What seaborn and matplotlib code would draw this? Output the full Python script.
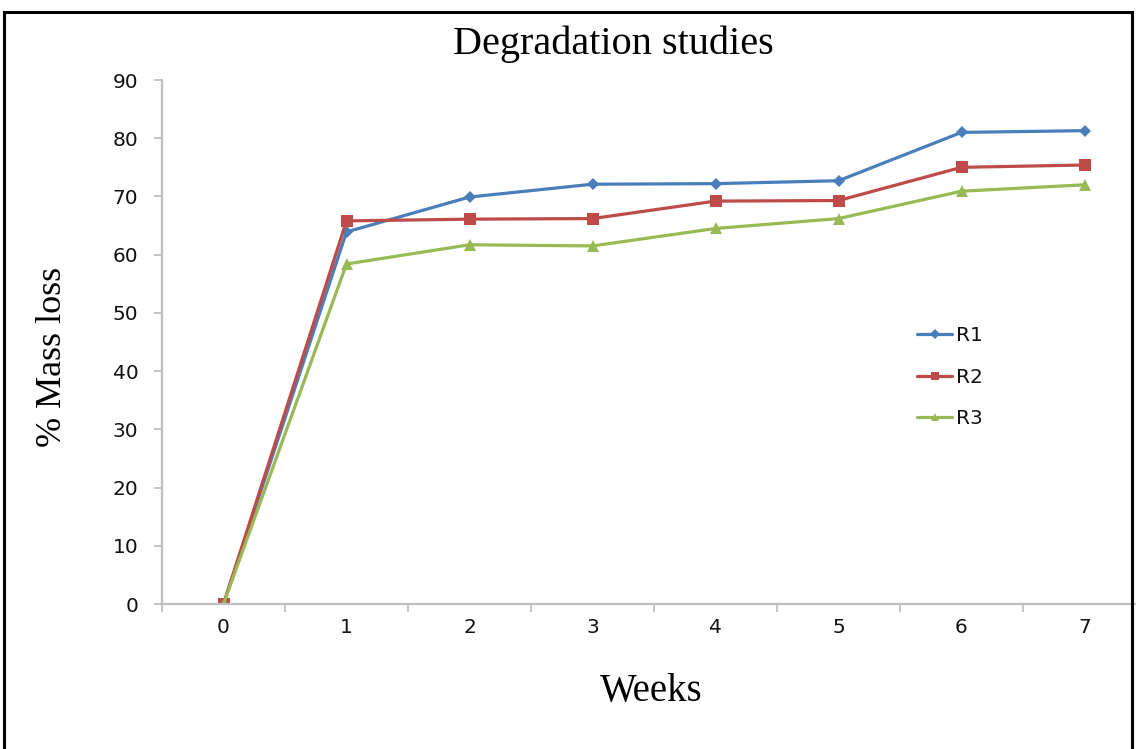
import numpy as np
import pandas as pd
import matplotlib
matplotlib.use("Agg")
import matplotlib.pyplot as plt
from matplotlib.patches import Rectangle
import seaborn as sns

# Degradation data: % mass loss per week for three replicates
weeks = [0, 1, 2, 3, 4, 5, 6, 7]
r1 = [0, 63.9, 69.9, 72.1, 72.2, 72.7, 81.0, 81.3]
r2 = [0, 65.8, 66.1, 66.2, 69.2, 69.3, 75.0, 75.4]
r3 = [0, 58.4, 61.7, 61.5, 64.5, 66.2, 70.9, 72.0]
series_names = ["R1", "R2", "R3"]
y_ticks = [0, 10, 20, 30, 40, 50, 60, 70, 80, 90]

df = pd.DataFrame({
    "Weeks": weeks * 3,
    "Mass loss": r1 + r2 + r3,
    "Series": [n for n in series_names for _ in weeks],
})

sns.set_theme(style="white")
plt.rcParams["font.family"] = ["DejaVu Sans"]

W, H = 1136, 749
fig = plt.figure(figsize=(W / 100, H / 100), dpi=100)
fig.patch.set_facecolor("white")

# plot area in pixel terms
left, right, top, bottom = 162, 1146, 80, 604
ax = fig.add_axes([left / W, 1 - bottom / H, (right - left) / W, (bottom - top) / H])

palette = {"R1": "#4a7ebb", "R2": "#be4b48", "R3": "#98b954"}
markers = {"R1": "D", "R2": "s", "R3": "^"}
sns.lineplot(data=df, x="Weeks", y="Mass loss", hue="Series", style="Series",
             palette=palette, markers=markers, dashes=False, linewidth=2.3,
             markeredgewidth=0, ax=ax, legend=True)

sizes = {"R1": 6.5, "R2": 8, "R3": 8}
for line, name in zip(ax.get_lines()[:3], series_names):
    line.set_markersize(sizes[name])

ax.set_xlim(-0.5, 7.5)
ax.set_ylim(0, 90)
ax.set_yticks(y_ticks)
ax.set_xticks(weeks)
ax.set_xticks(np.arange(-0.5, 8.0, 1.0), minor=True)

spine_col = "#bfbfbf"
for s in ["top", "right"]:
    ax.spines[s].set_visible(False)
for s in ["left", "bottom"]:
    ax.spines[s].set_color(spine_col)
    ax.spines[s].set_linewidth(1.6)

lab_col = "#111111"
ax.tick_params(axis="y", which="major", direction="out", length=6, width=1.3,
               color=spine_col, labelsize=14.5, pad=11, left=True, labelcolor=lab_col)
ax.tick_params(axis="x", which="major", length=0, labelsize=14.5, pad=10,
               labelcolor=lab_col)
ax.tick_params(axis="x", which="minor", direction="out", length=6, width=1.3,
               color=spine_col, bottom=True)
for lbl in ax.get_xticklabels() + ax.get_yticklabels():
    lbl.set_fontweight("medium")
ax.set_xlabel("")
ax.set_ylabel("")
ax.grid(False)

# legend
handles, labels = ax.get_legend_handles_labels()
leg = ax.legend(handles, labels, loc="upper left",
                bbox_to_anchor=((899 - left) / (right - left), (bottom - 308) / (bottom - top)),
                frameon=False, fontsize=14.5, handlelength=1.75, handletextpad=0.2,
                labelspacing=1.12, markerscale=0.9)
for t in leg.get_texts():
    t.set_color(lab_col)

# titles in serif
serif = ["Liberation Serif", "DejaVu Serif"]
fig.text(613 / W, 1 - 44 / H, "Degradation studies", family=serif, fontsize=29,
         ha="center", va="center", color="black")
fig.text(651 / W, 1 - 692 / H, "Weeks", family=serif, fontsize=28,
         ha="center", va="center", color="black")
fig.text(53 / W, 1 - 357 / H, "% Mass loss", family=serif, fontsize=26,
         ha="center", va="center", rotation=90, color="black")

# outer frame around the chart
fig.patches.append(Rectangle((4 / W, -0.05), 1128 / W, 1.05 - 12 / H,
                             transform=fig.transFigure, fill=False,
                             edgecolor="black", linewidth=2.2))

fig.savefig("out.png", dpi=100)
